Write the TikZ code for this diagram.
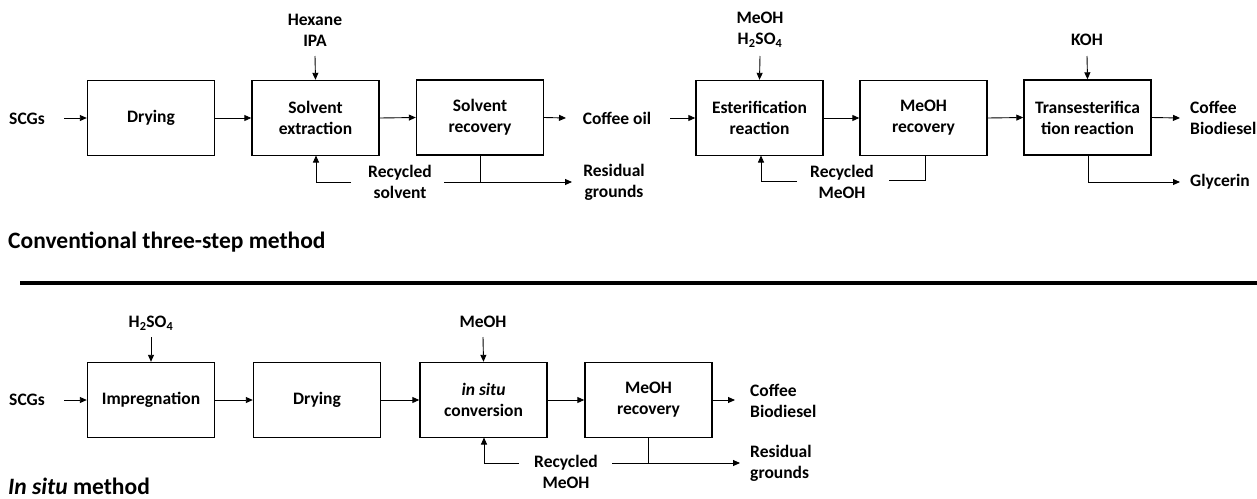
\documentclass[tikz,border=0pt]{standalone}
\usepackage{fontspec}
\setmainfont{Carlito}
\usetikzlibrary{arrows.meta}
\begin{document}
\begin{tikzpicture}[x=1pt,y=-1pt,
  font=\bfseries\fontsize{17.5}{21}\selectfont,
  box/.style={draw,line width=1.4pt,minimum width=127pt,minimum height=75pt,align=center,inner sep=2pt},
  lbl/.style={align=center,inner sep=1pt},
  lbll/.style={align=left,anchor=west,inner sep=1pt},
  arr/.style={-{Triangle[length=7pt,width=6pt]},line width=0.9pt},
  ln/.style={line width=0.9pt},
  title/.style={anchor=base west,inner sep=0pt,font=\bfseries\fontsize{23.5}{27}\selectfont}]
\useasboundingbox (0,0) rectangle (1257,498);
% ---------- top row ----------
\node[lbl] (scg1) at (27,119) {SCGs};
\node[box] (dry1) at (151,118) {Drying};
\node[box] (sext) at (315.5,118) {Solvent\\extraction};
\node[box] (srec) at (480,117.5) {Solvent\\recovery};
\node[lbl] (coil) at (617,118) {Coffee oil};
\node[box] (ester) at (759.5,118) {Esterification\\reaction};
\node[box] (mrec1) at (923.5,118) {MeOH\\recovery};
\node[box] (trans) at (1087.5,117.5) {Transesterifica\\tion reaction};
\node[lbl] (hex) at (315,30) {Hexane\\IPA};
\node[lbl] (meh) at (760,30) {MeOH\\H$_\mathbf{2}$SO$_\mathbf{4}$};
\node[lbl] (koh) at (1087,40) {KOH};
\node[lbl] (rsol) at (400,182) {Recycled\\solvent};
\node[lbl] (rg1) at (614,182) {Residual\\grounds};
\node[lbl] (rme1) at (842,182) {Recycled\\MeOH};
\node[lbll] (cb1) at (1189,118) {Coffee\\Biodiesel};
\node[lbll] (gly) at (1189,182) {Glycerin};

\coordinate (hexe) at (315,56);
\coordinate (mehe) at (760,56);
\coordinate (kohe) at (1087,56);
\draw[arr] (64,118) -- (dry1.west);
\draw[arr] (dry1.east) -- (sext.west);
\draw[arr] (sext.east) -- (srec.west);
\draw[arr] (srec.east) -- (566,118);
\draw[arr] (670,118) -- (ester.west);
\draw[arr] (ester.east) -- (mrec1.west);
\draw[arr] (mrec1.east) -- (trans.west);
\draw[arr] (trans.east) -- (1180,118);
\draw[arr] (hexe) -- (sext.north);
\draw[arr] (mehe) -- (ester.north);
\draw[arr] (kohe) -- (trans.north);
\draw[arr] (351,182) -- (316,182) -- (316,155.5);
\draw[ln] (srec.south) -- (480,182);
\draw[arr] (444,182) -- (572,182);
\draw[arr] (797,181) -- (761,181) -- (761,155.5);
\draw[ln] (889,180) -- (925,180) -- (925,155.5);
\draw[arr] (1088,155) -- (1088,182) -- (1180,182);

\node[title] (t1) at (8,248) {Conventional three-step method};
\draw[line width=3.5pt] (20,283) -- (1257,283);

% ---------- bottom row ----------
\node[lbl] (scg2) at (27,400) {SCGs};
\node[box] (imp) at (151,400) {Impregnation};
\node[box] (dry2) at (317,400) {Drying};
\node[box] (insitu) at (483.5,400) {\textit{in situ}\\conversion};
\node[box] (mrec2) at (648.5,400) {MeOH\\recovery};
\node[lbl] (h2) at (151,323) {H$_\mathbf{2}$SO$_\mathbf{4}$};
\node[lbl] (meo) at (483,322) {MeOH};
\node[lbll] (cb2) at (749,401) {Coffee\\Biodiesel};
\node[lbll] (rg2) at (749,463) {Residual\\grounds};
\node[lbl] (rme2) at (566,472) {Recycled\\MeOH};

\draw[arr] (64,400) -- (imp.west);
\draw[arr] (imp.east) -- (dry2.west);
\draw[arr] (dry2.east) -- (insitu.west);
\draw[arr] (insitu.east) -- (mrec2.west);
\draw[arr] (mrec2.east) -- (735,400);
\draw[arr] (151,337) -- (imp.north);
\draw[arr] (483,337) -- (insitu.north);
\draw[arr] (519,463) -- (484,463) -- (484,437.5);
\draw[ln] (648,437.5) -- (648,463);
\draw[arr] (612,463) -- (740,463);

\node[title] (t2) at (8,494) {\textit{In situ} method};
\end{tikzpicture}
\end{document}
